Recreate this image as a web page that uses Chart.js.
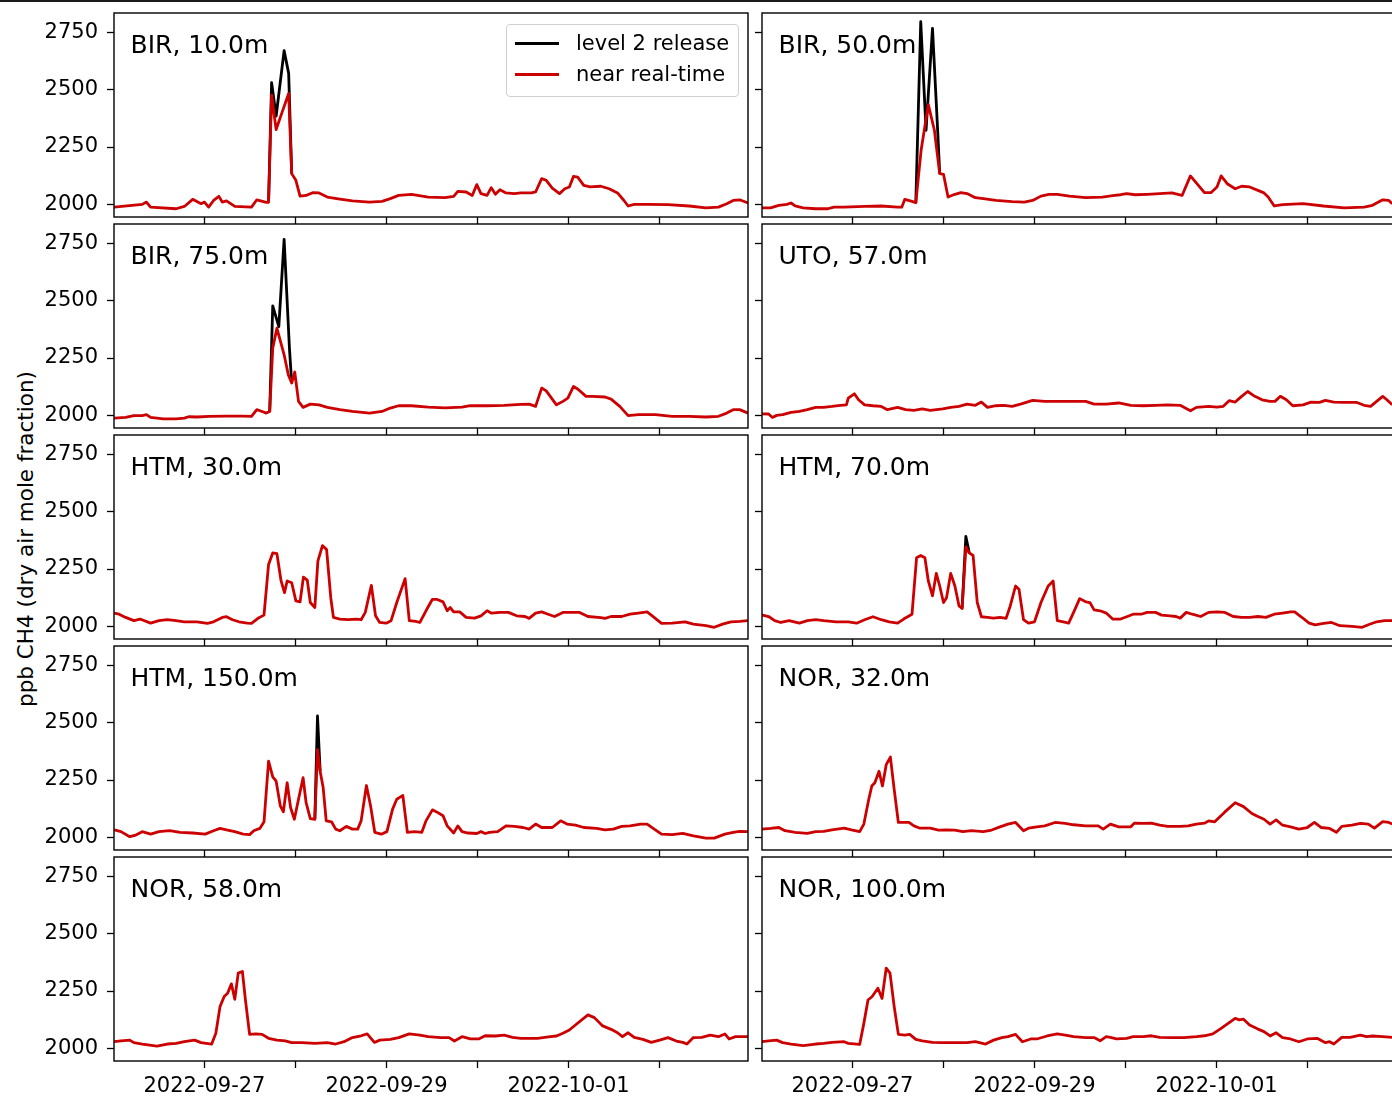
<!DOCTYPE html>
<html>
<head>
<meta charset="utf-8">
<script src="https://cdn.jsdelivr.net/npm/chart.js@4.4.0/dist/chart.umd.min.js"></script>
<style>
html, body { margin: 0; padding: 0; background: #fff; overflow: hidden; width: 1392px; height: 1096px; }
body { position: relative; font-family: 'DejaVu Sans', sans-serif; color: #000; }
canvas { position: absolute; }
.topline { position: absolute; left: 0; top: 0; width: 1392px; height: 2px; background: #1a1a1a; }
.ptitle { position: absolute; font-size: 25px; line-height: 25px; white-space: nowrap; }
.ylabel { position: absolute; left: 26px; top: 539px; font-size: 21.5px; line-height: 22px; white-space: nowrap;
          transform: translate(-50%, -50%) rotate(-90deg); }
.legend { position: absolute; left: 506px; top: 24px; width: 231px; height: 71px; border: 1px solid #d0d0d0;
          border-radius: 4px; background: rgba(255,255,255,0.85); z-index: 2; }
.legend .sw { position: absolute; left: 8px; width: 44px; height: 2.8px; }
.legend .tx { position: absolute; left: 69px; font-size: 21px; line-height: 21px; white-space: nowrap; }
</style>
</head>
<body>
<div class="topline"></div>
<div class="ylabel">ppb CH4 (dry air mole fraction)</div>
<div class="legend">
  <div class="sw" style="top:17px;background:#000"></div>
  <div class="tx" style="top:8px">level 2 release</div>
  <div class="sw" style="top:48px;background:#cc0000"></div>
  <div class="tx" style="top:39px">near real-time</div>
</div>
<script>
Chart.defaults.font.family = "'DejaVu Sans', sans-serif";

// hours since 2022-09-27 00:00, ppb CH4
const xTicks = [0, 24, 48, 72, 96, 120];
const xTickLabels = ['2022-09-27', '', '2022-09-29', '', '2022-10-01', ''];
const yTicks = [2000, 2250, 2500, 2750];

const bir10Nrt = [[-23.8,1988],[-16.4,2000],[-15.3,2010],[-14.2,1988],[-7.5,1981],[-5.3,1991],[-3.1,2022],[-0.9,2003],[0,2010],[1.1,1988],[2.4,2017],[3.8,2035],[4.7,2010],[5.8,2015],[8.0,1991],[12.4,1988],[13.8,2020],[16.3,2009],[16.9,2009],[17.7,2476],[18.9,2326],[20.5,2403],[22.2,2483],[23.0,2134],[24.1,2105],[25.2,2036],[26.8,2039],[28.5,2051],[30.2,2050],[32.4,2032],[35.7,2023],[39.0,2015],[43.5,2010],[46.8,2013],[49.0,2025],[51.2,2039],[54.6,2044],[59.0,2032],[63.4,2029],[65.7,2035],[66.8,2057],[69.0,2054],[70.6,2039],[71.8,2086],[72.9,2047],[74.5,2039],[75.6,2073],[76.7,2044],[77.9,2064],[79.5,2050],[81.7,2047],[83.4,2050],[86.2,2050],[87.3,2054],[88.9,2112],[90.1,2105],[91.7,2071],[93.6,2047],[95.0,2068],[96.2,2076],[97.3,2122],[98.4,2119],[100.0,2083],[101.7,2076],[104.5,2079],[106.7,2068],[108.9,2050],[110.6,2017],[111.7,1993],[113.3,2000],[116.7,2000],[122.2,1999],[127.8,1993],[132.2,1985],[135.5,1988],[137.7,2003],[139.4,2017],[141.1,2020],[143.3,2006]];
const bir10L2 = [[16.9,2009],[17.7,2530],[18.9,2385],[21.0,2670],[22.2,2571],[23.0,2134]];

const bir50Nrt = [[-24.0,1985],[-21.6,1985],[-19.4,1996],[-17.3,2000],[-16.2,2006],[-15.1,1993],[-13.0,1985],[-9.7,1981],[-6.5,1981],[-4.9,1988],[-2.2,1988],[3.2,1991],[7.6,1993],[11.9,1988],[13.0,1988],[13.8,2022],[15.7,2013],[16.7,2007],[18.1,2236],[20.0,2435],[21.6,2323],[23.0,2134],[24.0,2131],[25.2,2032],[27.0,2044],[28.6,2051],[30.2,2047],[32.4,2029],[34.5,2025],[37.8,2017],[42.1,2012],[45.3,2010],[47.5,2017],[49.7,2036],[51.8,2044],[54.0,2044],[57.2,2036],[61.5,2029],[65.9,2032],[69.1,2039],[70.7,2042],[72.3,2047],[74.5,2042],[77.7,2044],[81.0,2047],[84.2,2050],[86.9,2039],[89.1,2124],[91.2,2083],[92.8,2051],[94.5,2051],[96.1,2076],[97.2,2124],[98.8,2090],[100.9,2068],[102.6,2079],[104.7,2076],[106.9,2061],[108.5,2050],[109.6,2032],[111.2,1993],[113.4,1999],[118.8,2003],[124.2,1993],[129.6,1985],[134.9,1988],[137.1,1996],[139.8,2020],[141.4,2017],[142.3,2003]];
const bir50L2 = [[16.7,2007],[18.0,2796],[19.4,2323],[21.1,2767],[22.5,2309],[23.0,2134]];

const bir75Nrt = [[-23.8,1988],[-20.8,1991],[-18.6,1999],[-16.4,1999],[-15.3,2003],[-14.2,1991],[-10.9,1985],[-7.5,1985],[-5.3,1988],[-4.2,1994],[-2.0,1993],[1.3,1996],[5.8,1997],[10.2,1997],[12.4,1996],[13.8,2025],[15.2,2017],[16.3,2010],[17.2,2017],[18.0,2293],[19.1,2380],[21.0,2264],[22.1,2177],[23.0,2141],[23.8,2189],[24.8,2061],[26.0,2035],[27.9,2049],[30.2,2046],[32.4,2035],[35.7,2025],[39.0,2017],[43.5,2010],[46.8,2017],[49.0,2032],[51.2,2042],[54.6,2042],[59.0,2036],[63.4,2033],[67.9,2036],[70.1,2042],[74.5,2042],[79.0,2044],[83.4,2048],[85.6,2049],[87.3,2039],[88.9,2119],[90.1,2107],[92.8,2046],[94.5,2061],[95.8,2075],[97.3,2126],[98.4,2115],[100.6,2083],[102.2,2083],[105.6,2080],[107.2,2071],[109.5,2039],[111.7,1999],[114.4,2003],[118.9,2003],[123.3,1996],[127.8,1996],[132.2,1993],[135.5,1996],[137.7,2010],[139.4,2025],[141.1,2025],[143.3,2010]];
const bir75L2 = [[17.2,2017],[18.0,2477],[19.6,2387],[21.0,2767],[22.4,2293],[23.0,2141]];

const uto57Nrt = [[-24.0,2007],[-22.1,2006],[-21.1,1991],[-20.0,2000],[-18.4,2003],[-16.2,2013],[-14.0,2017],[-11.9,2025],[-9.7,2035],[-7.6,2035],[-5.4,2039],[-3.2,2044],[-1.6,2046],[-1.1,2075],[0.5,2094],[1.6,2068],[3.2,2046],[5.4,2042],[7.6,2039],[9.2,2025],[11.9,2035],[14.0,2025],[16.2,2022],[18.4,2028],[20.5,2022],[23.8,2028],[25.9,2035],[28.1,2039],[30.2,2049],[32.4,2044],[34.0,2058],[35.6,2035],[37.8,2042],[39.9,2044],[42.1,2039],[44.3,2049],[47.5,2065],[50.7,2061],[55.1,2061],[59.4,2061],[61.5,2061],[63.7,2049],[66.9,2049],[70.2,2054],[73.4,2044],[76.7,2042],[79.9,2044],[83.1,2046],[86.4,2044],[89.1,2020],[90.7,2035],[93.9,2039],[96.1,2036],[97.7,2039],[99.3,2064],[100.9,2058],[102.6,2083],[104.2,2104],[105.8,2086],[108.0,2068],[110.1,2061],[111.4,2061],[112.8,2083],[114.4,2068],[116.1,2042],[118.8,2046],[120.9,2058],[123.1,2057],[124.7,2065],[126.9,2058],[129.6,2057],[132.8,2057],[134.9,2044],[136.6,2039],[138.2,2061],[139.8,2083],[140.9,2068],[142.3,2046]];

const htm30Nrt = [[-23.8,2058],[-22.5,2053],[-20.8,2039],[-18.6,2025],[-17.0,2032],[-14.2,2014],[-12.0,2025],[-9.8,2029],[-7.5,2025],[-5.3,2020],[-2.0,2020],[0.8,2013],[2.4,2020],[4.7,2039],[5.8,2042],[7.4,2029],[9.1,2020],[11.3,2014],[12.4,2013],[14.1,2035],[15.7,2049],[16.9,2270],[18.0,2320],[19.1,2317],[20.2,2198],[21.1,2147],[21.8,2198],[23.0,2190],[24.1,2111],[25.2,2107],[26.1,2215],[27.1,2202],[27.9,2104],[29.1,2082],[29.9,2284],[31.1,2352],[32.2,2335],[33.3,2125],[34.0,2039],[35.7,2032],[37.9,2029],[40.1,2032],[41.3,2029],[42.4,2061],[44.0,2179],[45.1,2046],[46.2,2017],[47.9,2014],[49.2,2025],[50.7,2104],[52.9,2208],[54.0,2025],[55.7,2022],[56.8,2017],[58.4,2068],[60.1,2118],[61.2,2118],[62.9,2107],[64.0,2068],[64.8,2082],[65.7,2063],[67.3,2063],[69.0,2039],[71.2,2036],[72.9,2046],[74.5,2068],[75.6,2058],[77.9,2061],[80.1,2061],[82.3,2046],[84.5,2043],[85.6,2035],[87.3,2058],[88.9,2063],[90.6,2053],[92.3,2043],[94.5,2061],[98.9,2061],[101.1,2043],[104.5,2038],[105.6,2035],[107.2,2043],[110.0,2043],[112.2,2053],[114.4,2058],[116.7,2063],[117.8,2049],[120.5,2013],[123.3,2014],[126.7,2020],[128.9,2010],[132.2,2003],[134.4,1996],[136.6,2010],[138.8,2020],[141.1,2022],[143.3,2025]];

const htm70Nrt = [[-24.0,2050],[-22.1,2043],[-20.5,2025],[-18.9,2017],[-16.7,2025],[-14.0,2014],[-11.9,2025],[-9.7,2029],[-7.6,2025],[-4.3,2020],[-1.1,2020],[1.1,2014],[3.2,2029],[5.4,2042],[7.6,2029],[9.7,2020],[11.9,2014],[13.5,2032],[15.7,2053],[16.9,2299],[18.0,2309],[19.1,2299],[20.0,2198],[21.1,2133],[22.1,2231],[23.0,2176],[24.0,2104],[24.8,2125],[25.9,2231],[27.0,2176],[28.1,2089],[28.9,2078],[29.9,2346],[30.8,2320],[31.8,2309],[32.9,2104],[34.0,2042],[35.6,2039],[37.2,2036],[38.9,2039],[40.5,2035],[41.6,2089],[43.0,2176],[43.9,2162],[45.1,2029],[46.4,2014],[48.0,2020],[49.7,2104],[51.6,2176],[52.9,2198],[54.0,2025],[55.6,2020],[57.0,2014],[58.3,2061],[59.9,2121],[61.5,2107],[62.6,2104],[63.7,2072],[65.3,2068],[66.9,2058],[68.6,2032],[70.7,2032],[72.3,2042],[74.0,2053],[76.1,2053],[77.7,2061],[79.9,2061],[81.5,2049],[83.7,2046],[85.3,2043],[86.4,2036],[88.0,2061],[89.6,2053],[91.8,2043],[93.9,2061],[96.1,2063],[98.2,2061],[100.4,2043],[102.6,2039],[104.7,2039],[106.9,2043],[109.0,2039],[111.2,2053],[113.4,2058],[115.5,2063],[116.6,2063],[118.2,2043],[120.4,2014],[122.0,2007],[124.2,2013],[126.3,2017],[128.5,2003],[131.7,2000],[134.4,1996],[136.0,2007],[138.2,2020],[140.3,2025],[142.3,2025]];
const htm70L2 = [[28.9,2078],[29.9,2392],[30.8,2320]];

const htm150Nrt = [[-23.8,2033],[-22.0,2025],[-19.7,2003],[-18.1,2010],[-16.4,2025],[-14.2,2014],[-12.0,2025],[-9.2,2029],[-6.4,2022],[-3.1,2019],[0.2,2014],[2.4,2029],[4.1,2039],[5.8,2033],[8.0,2025],[10.2,2014],[11.9,2012],[13.0,2029],[14.6,2039],[15.7,2068],[16.9,2332],[18.0,2264],[18.9,2245],[20.0,2137],[20.8,2111],[21.8,2238],[22.7,2130],[23.7,2079],[24.6,2151],[26.0,2260],[26.8,2151],[27.9,2082],[29.1,2079],[29.8,2382],[30.5,2288],[31.3,2216],[32.1,2072],[33.5,2068],[34.6,2036],[35.7,2029],[37.4,2048],[39.0,2036],[40.4,2036],[41.3,2072],[42.7,2226],[43.8,2137],[44.9,2022],[46.6,2014],[48.1,2025],[49.6,2123],[50.7,2166],[52.3,2183],[53.5,2022],[55.4,2025],[57.3,2022],[58.4,2072],[60.1,2120],[61.2,2111],[62.9,2094],[64.0,2050],[65.7,2019],[66.8,2050],[67.9,2025],[69.5,2019],[71.8,2017],[72.9,2025],[74.0,2017],[75.1,2022],[77.3,2025],[79.5,2050],[81.7,2048],[84.0,2043],[85.6,2036],[87.3,2058],[88.9,2043],[91.7,2043],[93.9,2072],[95.6,2058],[97.8,2053],[100.0,2043],[103.4,2039],[105.6,2033],[107.8,2036],[110.0,2048],[112.2,2050],[115.0,2058],[116.7,2058],[118.3,2039],[120.5,2014],[123.3,2012],[126.1,2017],[128.9,2007],[132.2,1997],[134.4,1997],[137.2,2014],[139.4,2022],[141.1,2026],[143.3,2025]];
const htm150L2 = [[29.1,2079],[29.8,2529],[30.5,2288]];

const nor32Nrt = [[-24.0,2036],[-21.6,2039],[-19.4,2043],[-17.8,2029],[-15.1,2022],[-11.9,2017],[-9.7,2025],[-7.6,2026],[-5.4,2033],[-2.2,2040],[0.0,2032],[1.9,2025],[3.0,2058],[4.3,2166],[5.1,2224],[5.9,2238],[7.0,2288],[7.9,2224],[8.9,2317],[10.0,2350],[11.0,2209],[12.1,2065],[13.5,2065],[14.9,2065],[16.2,2050],[17.8,2040],[20.5,2040],[22.7,2032],[24.8,2033],[27.0,2032],[29.1,2025],[31.3,2029],[34.5,2025],[36.7,2032],[38.9,2046],[41.0,2058],[43.0,2065],[45.1,2029],[46.4,2040],[48.6,2046],[50.7,2050],[53.4,2065],[56.1,2061],[58.3,2055],[61.5,2050],[64.8,2050],[66.1,2036],[68.0,2058],[70.2,2046],[73.4,2046],[74.3,2062],[76.7,2061],[78.8,2062],[81.0,2053],[83.1,2048],[86.4,2048],[88.5,2050],[90.7,2058],[92.8,2062],[93.9,2072],[95.5,2068],[98.2,2111],[100.9,2151],[103.1,2134],[105.3,2104],[106.9,2091],[108.5,2079],[110.1,2058],[111.7,2076],[113.4,2053],[115.5,2046],[117.7,2036],[119.9,2043],[121.8,2065],[123.6,2043],[125.8,2039],[127.6,2022],[129.0,2048],[131.7,2053],[133.9,2061],[136.0,2058],[137.6,2040],[139.8,2069],[141.4,2065],[142.3,2058]];

const nor58Nrt = [[-23.8,2029],[-22.0,2033],[-19.7,2036],[-18.6,2025],[-16.4,2019],[-12.5,2010],[-9.8,2019],[-7.5,2022],[-5.3,2029],[-2.6,2036],[-0.9,2025],[1.9,2019],[3.0,2066],[4.1,2182],[5.2,2226],[6.1,2240],[7.1,2281],[8.0,2214],[8.9,2328],[10.0,2335],[10.8,2211],[11.9,2061],[13.5,2063],[15.2,2061],[16.9,2044],[19.1,2036],[21.3,2033],[23.0,2025],[25.7,2025],[29.1,2022],[32.4,2025],[34.6,2019],[36.8,2029],[39.0,2047],[41.3,2055],[42.9,2063],[44.8,2026],[46.2,2036],[49.0,2039],[51.2,2047],[54.0,2063],[56.8,2058],[59.0,2051],[62.3,2047],[64.5,2047],[65.9,2032],[67.9,2051],[70.1,2041],[72.3,2041],[74.0,2055],[76.7,2054],[79.0,2058],[81.2,2048],[83.4,2044],[87.8,2044],[91.2,2051],[92.8,2054],[94.5,2066],[96.2,2080],[97.8,2102],[101.1,2146],[102.8,2134],[105.0,2098],[107.2,2083],[108.9,2068],[110.2,2051],[111.7,2068],[113.3,2048],[115.6,2039],[117.8,2026],[120.0,2036],[122.2,2047],[124.4,2032],[126.1,2026],[127.2,2019],[128.9,2047],[131.1,2048],[133.3,2058],[135.5,2051],[137.2,2063],[138.3,2041],[140.0,2051],[143.3,2051]];

const nor100Nrt = [[-24.0,2029],[-22.1,2033],[-20.0,2036],[-18.4,2025],[-16.2,2019],[-13.0,2012],[-9.7,2019],[-7.6,2022],[-5.4,2026],[-2.2,2029],[-1.1,2022],[1.9,2017],[3.0,2109],[4.1,2211],[5.2,2226],[6.7,2262],[7.8,2218],[8.9,2350],[9.9,2328],[11.0,2182],[12.1,2061],[13.8,2058],[15.1,2061],[16.7,2039],[18.4,2033],[21.1,2026],[23.8,2025],[27.0,2025],[30.2,2025],[32.4,2029],[35.1,2019],[37.2,2036],[39.4,2047],[41.0,2051],[43.0,2061],[44.8,2029],[47.0,2041],[48.6,2041],[51.3,2054],[54.0,2063],[56.1,2058],[58.3,2051],[61.5,2047],[63.7,2047],[65.3,2033],[66.9,2051],[68.0,2048],[69.6,2041],[72.3,2044],[74.0,2051],[76.7,2051],[78.8,2055],[81.0,2048],[84.2,2047],[87.4,2047],[90.7,2051],[92.8,2055],[95.0,2063],[97.2,2087],[100.9,2131],[102.0,2124],[103.1,2127],[104.7,2102],[106.9,2084],[108.5,2073],[110.1,2054],[111.7,2068],[113.4,2047],[115.5,2041],[117.7,2029],[119.9,2041],[122.5,2044],[124.7,2025],[125.8,2029],[126.9,2019],[129.0,2048],[131.2,2048],[133.9,2058],[135.5,2051],[137.1,2054],[139.8,2051],[142.3,2048]];

const panelTitles = ['BIR, 10.0m', 'BIR, 50.0m', 'BIR, 75.0m', 'UTO, 57.0m', 'HTM, 30.0m',
                     'HTM, 70.0m', 'HTM, 150.0m', 'NOR, 32.0m', 'NOR, 58.0m', 'NOR, 100.0m'];
const panelNrt = [bir10Nrt, bir50Nrt, bir75Nrt, uto57Nrt, htm30Nrt, htm70Nrt, htm150Nrt, nor32Nrt, nor58Nrt, nor100Nrt];
const panelL2 = [bir10L2, bir50L2, bir75L2, null, null, htm70L2, htm150L2, null, null, null];

const X_MIN = -23.85, X_MAX = 143.3;
const Y_MIN = 1945, Y_MAX = 2834;
const colLeft = [0, 750];
const axisW = [114, 12];
const plotW = 634, plotH = 204;
const rowTop = [13, 224, 435, 646, 857];
const RED = '#cc0000';
const LINE_W = 2.8;

const framePlugin = {
  id: 'frame',
  afterDraw(chart) {
    const a = chart.chartArea, ctx = chart.ctx;
    ctx.save();
    ctx.strokeStyle = '#000';
    ctx.lineWidth = 1.4;
    ctx.strokeRect(a.left, a.top, a.right - a.left, a.bottom - a.top);
    ctx.restore();
  }
};

function toXY(arr) {
  return arr.map(p => ({x: p[0], y: p[1]}));
}

panelTitles.forEach((title, i) => {
  const col = i % 2, row = Math.floor(i / 2);
  const bottom = row === 4;
  const xAxisH = bottom ? 35 : 8;

  const canvas = document.createElement('canvas');
  canvas.width = axisW[col] + plotW + 1;
  canvas.height = 1 + plotH + xAxisH;
  canvas.style.left = colLeft[col] + 'px';
  canvas.style.top = (rowTop[row] - 1) + 'px';
  document.body.appendChild(canvas);

  const t = document.createElement('div');
  t.className = 'ptitle';
  t.textContent = title;
  t.style.left = (colLeft[col] + axisW[col] + 16.5) + 'px';
  t.style.top = (rowTop[row] + 19) + 'px';
  document.body.appendChild(t);

  const datasets = [{
    data: toXY(panelNrt[i]), borderColor: RED, borderWidth: LINE_W,
    pointRadius: 0, tension: 0, borderJoinStyle: 'round'
  }];
  if (panelL2[i]) {
    datasets.push({
      data: toXY(panelL2[i]), borderColor: '#000', borderWidth: LINE_W,
      pointRadius: 0, tension: 0, borderJoinStyle: 'round'
    });
  }

  new Chart(canvas, {
    type: 'line',
    data: {datasets: datasets},
    options: {
      responsive: false,
      animation: false,
      devicePixelRatio: 1,
      layout: {padding: {top: 1, right: 1, left: 0, bottom: 0}},
      plugins: {legend: {display: false}, tooltip: {enabled: false}},
      scales: {
        x: {
          type: 'linear', min: X_MIN, max: X_MAX,
          afterBuildTicks: s => { s.ticks = xTicks.map(v => ({value: v})); },
          afterFit: s => { s.height = xAxisH; s.paddingLeft = 0; s.paddingRight = 0; s.paddingTop = 0; s.paddingBottom = 0; },
          grid: {drawOnChartArea: false, drawTicks: true, tickLength: 7, tickColor: '#000', tickWidth: 1.3},
          border: {display: false},
          ticks: {
            display: bottom, autoSkip: false, maxRotation: 0, padding: 6,
            color: '#000', font: {size: 21},
            callback: v => xTickLabels[xTicks.indexOf(v)] || ''
          }
        },
        y: {
          type: 'linear', min: Y_MIN, max: Y_MAX,
          afterBuildTicks: s => { s.ticks = yTicks.map(v => ({value: v})); },
          afterFit: s => { s.width = axisW[col]; s.paddingLeft = 0; s.paddingRight = 0; s.paddingTop = 0; s.paddingBottom = 0; },
          grid: {drawOnChartArea: false, drawTicks: true, tickLength: 7, tickColor: '#000', tickWidth: 1.3},
          border: {display: false},
          ticks: {display: col === 0, padding: 9, color: '#000', font: {size: 21}, callback: v => String(v)}
        }
      }
    },
    plugins: [framePlugin]
  });
});
</script>
</body>
</html>
